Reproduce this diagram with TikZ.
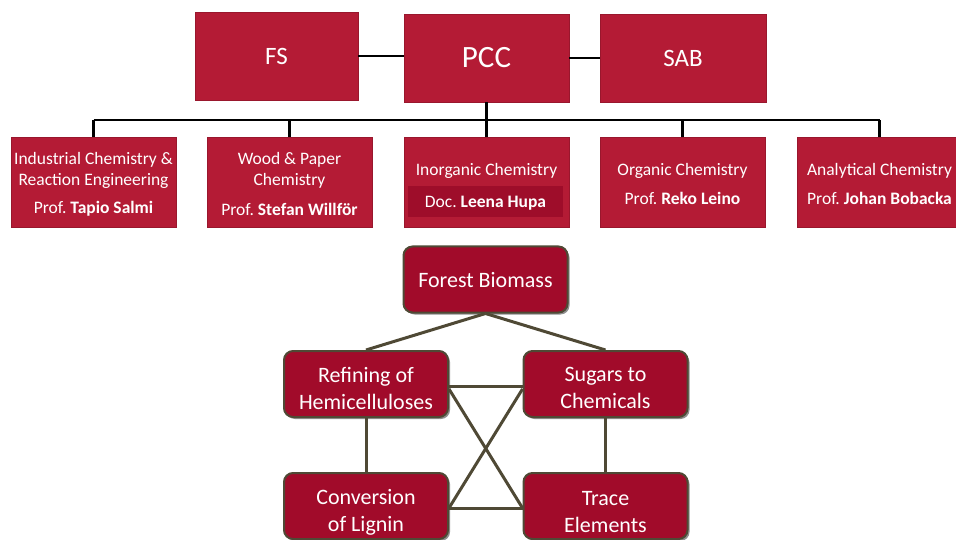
\documentclass[tikz,border=0pt]{standalone}
\usepackage{fontspec}
\setmainfont{Carlito}
\frenchspacing
\usetikzlibrary{shadows}
\definecolor{topred}{HTML}{B41B35}
\definecolor{bandred}{HTML}{9E0D2A}
\definecolor{lowred}{HTML}{A10B2A}
\definecolor{olive}{HTML}{4F4935}
\tikzset{
  topbox/.style={draw=topred!85!black, line width=0.6pt, fill=topred, text=white, inner sep=0pt},
  txt/.style={text=white, inner sep=0pt, font=\fontsize{17.5}{21}\selectfont},
  lowtxt/.style={text=white, inner sep=0pt, align=center, font=\fontsize{22}{27}\selectfont, yshift=-4pt},
  lowbox/.style={draw=olive, line width=2pt, fill=lowred, rounded corners=9pt,
     minimum width=164pt, minimum height=66pt, inner sep=0pt,
     drop shadow={shadow xshift=2pt, shadow yshift=-2pt, fill=black!55, opacity=0.8}},
  blk/.style={draw=black, line width=2.4pt},
  olv/.style={draw=olive, line width=3pt}
}
\begin{document}
\begin{tikzpicture}[x=1pt,y=-1pt]
\useasboundingbox (0,0) rectangle (956,540);
% top row
\node[topbox, minimum width=163pt, minimum height=88pt, font=\fontsize{25}{30}\selectfont] (fs) at (276.5,56) {FS};
\node[topbox, minimum width=165pt, minimum height=88pt, font=\fontsize{31}{36}\selectfont] (pcc) at (486.5,58) {\raisebox{-2pt}{PCC}};
\node[topbox, minimum width=166pt, minimum height=88pt, font=\fontsize{25}{30}\selectfont] (sab) at (683,58) {\raisebox{-2pt}{SAB}};
\draw[blk] (fs.east) -- (fs.east -| pcc.west);
\draw[blk] (pcc.east) -- (sab.west);
% second row boxes
\foreach \n/\x in {b1/93.5,b2/289.5,b3/486.5,b4/682.5,b5/879.5}{
  \node[topbox, minimum width=165pt, minimum height=90pt] (\n) at (\x,182) {};
}
\coordinate (j) at (486.5,120);
\draw[blk] (pcc.south) -- (j);
\draw[blk] (b1.north |- j) -- (b5.north |- j);
\foreach \n in {b1,b2,b3,b4,b5}{ \draw[blk] (\n.north) -- (\n.north |- j); }
% band in inorganic
\node[fill=bandred, minimum width=155pt, minimum height=31pt, inner sep=0pt] (band) at (485.5,201.5) {};
% texts
\node[txt] (t1a) at (93.5,160) {Industrial Chemistry \&};
\node[txt] (t1b) at (93.5,181) {Reaction Engineering};
\node[txt] (t1c) at (93.5,209) {Prof. \textbf{Tapio Salmi}};
\node[txt] (t2a) at (289.5,160) {Wood \& Paper};
\node[txt] (t2b) at (289.5,181) {Chemistry};
\node[txt] (t2c) at (289.5,209) {Prof. \textbf{Stefan Willför}};
\node[txt] (t3a) at (486.5,171) {Inorganic Chemistry};
\node[txt] (t3b) at (485.5,203) {Doc. \textbf{Leena Hupa}};
\node[txt] (t4a) at (682.5,171) {Organic Chemistry};
\node[txt] (t4b) at (682.5,198) {Prof. \textbf{Reko Leino}};
\node[txt] (t5a) at (879.5,171) {Analytical Chemistry};
\node[txt] (t5b) at (879.5,198) {Prof. \textbf{Johan Bobacka}};
% lower diagram
\node[lowbox] (fb) at (485.5,279.5) {};
\node[lowbox] (ref) at (366,384) {};
\node[lowbox] (sug) at (605.5,384) {};
\node[lowbox] (con) at (366,506) {};
\node[lowbox] (tr) at (605.5,506) {};
\node[lowtxt, yshift=3pt] (fbt) at (fb.center) {Forest Biomass};
\node[lowtxt] (reft) at (ref.center) {Refining of\\Hemicelluloses};
\node[lowtxt] (sugt) at (sug.center) {Sugars to\\Chemicals};
\node[lowtxt, yshift=-2pt] (cont) at (con.center) {Conversion\\of Lignin};
\node[lowtxt, yshift=-2pt] (trt) at (tr.center) {Trace\\Elements};
\draw[olv] (fb.south) -- (ref.north);
\draw[olv] (fb.south) -- (sug.north);
\draw[olv] ([yshift=-2pt]ref.east) -- ([yshift=-2pt]sug.west);
\draw[olv] ([yshift=-2pt]con.east) -- ([yshift=-2pt]tr.west);
\draw[olv] (ref.south) -- (con.north);
\draw[olv] (sug.south) -- (tr.north);
\draw[olv] ([yshift=-5pt]ref.east) -- ([yshift=-2pt]tr.west);
\draw[olv] ([yshift=-5pt]sug.west) -- ([yshift=-2pt]con.east);
\end{tikzpicture}
\end{document}
